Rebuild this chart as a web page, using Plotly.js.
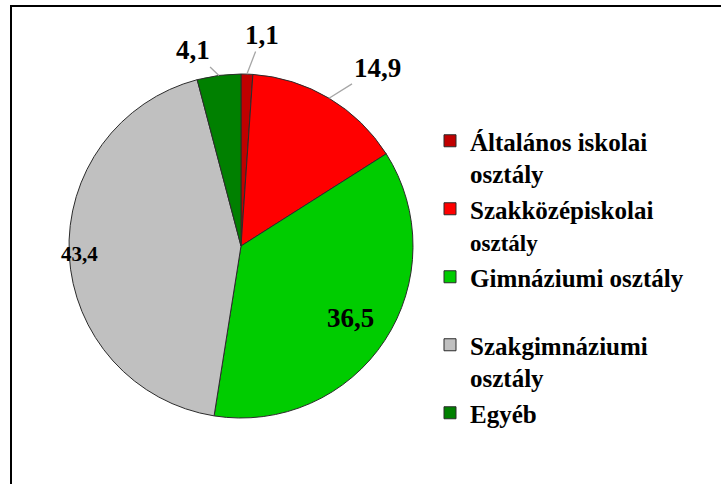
<!DOCTYPE html>
<html>
<head>
<meta charset="utf-8">
<script src="https://cdn.plot.ly/plotly-3.0.1.min.js"></script>
<style>
html,body{margin:0;padding:0;background:#fff;overflow:hidden}
#chart{width:721px;height:484px}
#frame{position:absolute;left:10px;top:5px;width:800px;height:600px;border-left:2px solid #000;border-top:2px solid #000;pointer-events:none}
</style>
</head>
<body>
<div id="chart"></div>
<div id="frame"></div>
<script>
// ---- data ----
const categories = ['Általános iskolai osztály', 'Szakközépiskolai osztály', 'Gimnáziumi osztály', 'Szakgimnáziumi osztály', 'Egyéb'];
const legendLabels = ['Általános iskolai<br>osztály', 'Szakközépiskolai<br><span style="font-size:23px">osztály</span>', 'Gimnáziumi osztály<br> ', 'Szakgimnáziumi<br>osztály', 'Egyéb'];
const values = [1.1, 14.9, 36.5, 43.4, 4.1];

// ---- style ----
const colors = ['#C00000', '#FF0000', '#00CC00', '#C0C0C0', '#008000'];
const W = 721, H = 484;
const pieDomain = {x: [69 / W, 413 / W], y: [66 / H, 410 / H]};
const labelStyle = [
  {out: true, ax: 15, ay: -39, size: 27},
  {out: true, ax: 48, ay: -30, size: 27},
  {out: false, rf: 0.76, size: 27},
  {out: false, rf: 0.94, size: 21},
  {out: true, ax: -26, ay: -25, size: 27}
];
const fontSerif = 'Times New Roman';

// geometry of the pie as plotly lays it out (margins are zero)
const cx = (pieDomain.x[0] + pieDomain.x[1]) / 2 * W;
const cy = (1 - (pieDomain.y[0] + pieDomain.y[1]) / 2) * H;
const rad = Math.min((pieDomain.x[1] - pieDomain.x[0]) * W, (pieDomain.y[1] - pieDomain.y[0]) * H) / 2;
const total = values.reduce((a, b) => a + b, 0);

const annotations = [];
let cum = 0;
values.forEach((v, i) => {
  const mid = (cum + v / 2) / total * 2 * Math.PI; // clockwise from 12 o'clock
  cum += v;
  const st = labelStyle[i];
  const txt = v.toFixed(1).replace('.', ',');
  const rr = st.out ? rad : rad * st.rf;
  const px = cx + rr * Math.sin(mid);
  const py = cy - rr * Math.cos(mid);
  const a = {
    x: px / W, y: 1 - py / H, xref: 'paper', yref: 'paper',
    text: txt,
    font: {family: fontSerif, size: st.size, color: '#000', weight: 'bold'}
  };
  if (st.out) {
    Object.assign(a, {showarrow: true, arrowhead: 0, ax: st.ax, ay: st.ay,
      arrowcolor: '#A6A6A6', arrowwidth: 1.3, standoff: 0, startstandoff: 0});
  } else {
    Object.assign(a, {showarrow: false, xanchor: 'center', yanchor: 'middle'});
  }
  annotations.push(a);
});

const trace = {
  type: 'pie',
  labels: legendLabels,
  values: values,
  sort: false,
  direction: 'clockwise',
  domain: pieDomain,
  marker: {colors: colors, line: {color: '#2b2b2b', width: 1}},
  textinfo: 'none'
};

const layout = {
  width: W, height: H,
  margin: {l: 0, r: 0, t: 0, b: 0},
  font: {family: fontSerif},
  legend: {
    x: 430 / W, y: 1 - 118 / H,
    font: {family: fontSerif, size: 25, color: '#000', weight: 'bold'},
    valign: 'top'
  },
  annotations: annotations
};

Plotly.newPlot('chart', [trace], layout, {displayModeBar: false, staticPlot: true});
</script>
</body>
</html>
